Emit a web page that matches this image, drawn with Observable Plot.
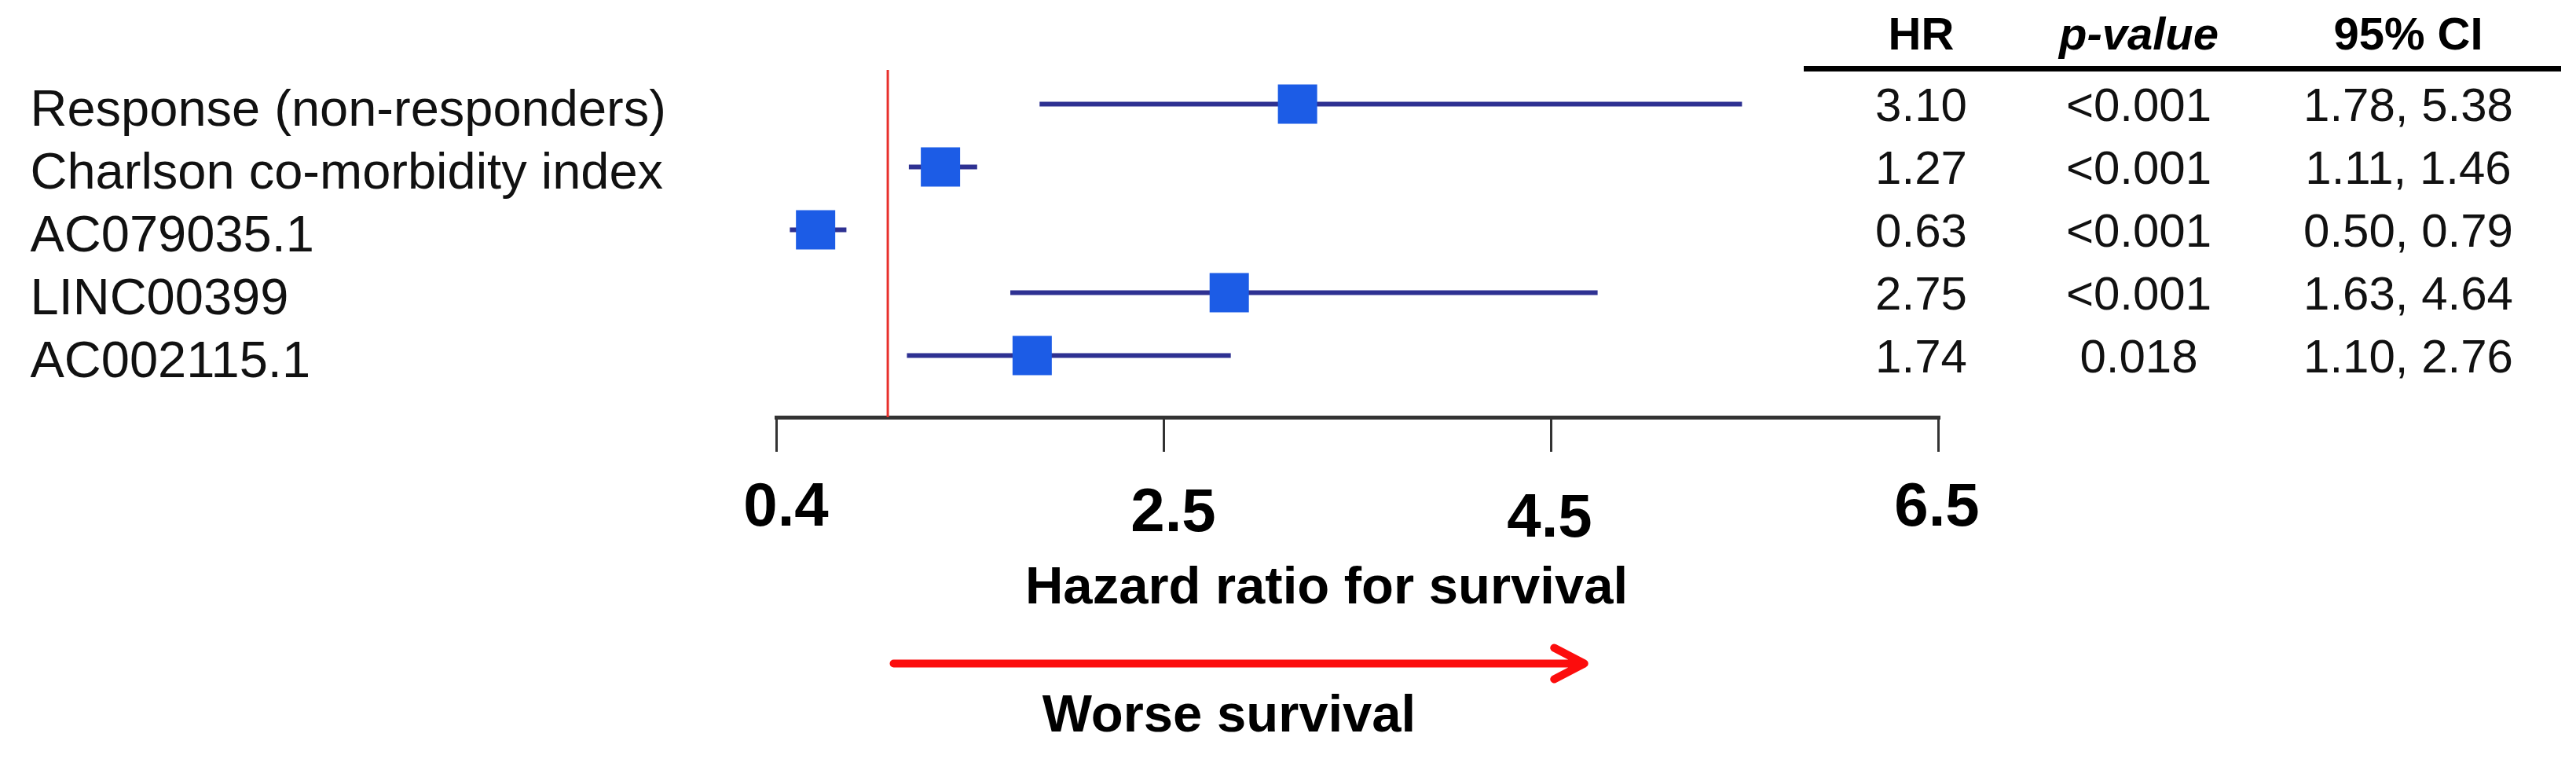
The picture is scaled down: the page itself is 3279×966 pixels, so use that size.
<!DOCTYPE html>
<html>
<head>
<meta charset="utf-8">
<script src="https://cdn.jsdelivr.net/npm/d3@7"></script>
<script src="https://cdn.jsdelivr.net/npm/@observablehq/plot@0.6"></script>
<style>
  body { margin: 0; background: #fff; }
  #wrap { position: relative; width: 3279px; height: 966px; overflow: hidden; }
  #main { position: absolute; left: 0; top: 0; }
  #table { position: absolute; left: 2296px; top: 0; }
</style>
</head>
<body>
<div id="wrap"><div id="main"></div><div id="table"></div></div>
<script>
// ---- data ----
const labels = ["Response (non-responders)", "Charlson co-morbidity index", "AC079035.1", "LINC00399", "AC002115.1"];
const hr = [3.10, 1.27, 0.63, 2.75, 1.74];
const ciLow = [1.78, 1.11, 0.50, 1.63, 1.10];
const ciHigh = [5.38, 1.46, 0.79, 4.64, 2.76];
const pValues = ["<0.001", "<0.001", "<0.001", "<0.001", "0.018"];
const headers = ["HR", "p-value", "95% CI"];
const tickValues = [0.43, 2.415, 4.4, 6.385];
const tickLabels = ["0.4", "2.5", "4.5", "6.5"];
const referenceHR = 1;
const arrowSpan = [{from: 1.03, to: 4.57}];
const xTitle = "Hazard ratio for survival";
const arrowLabel = "Worse survival";

const rows = labels.map((label, i) => ({
  label, hr: hr[i], lo: ciLow[i], hi: ciHigh[i],
  hrText: hr[i].toFixed(2), p: pValues[i],
  ci: ciLow[i].toFixed(2) + ", " + ciHigh[i].toFixed(2)
}));

const font = "'Liberation Sans', Arial, Helvetica, sans-serif";
const lastLabel = labels[labels.length - 1];
const yScale = {type: "point", domain: labels, range: [131, 452], padding: 0, axis: null};
// small per-label offsets seen in the original figure's tick labels
const tickLabelDx = [12, 12, -2, -2];
const tickLabelDy = [0, 7, 14, 0];

const main = Plot.plot({
  width: 3279, height: 966,
  marginLeft: 988, marginRight: 812, marginTop: 89, marginBottom: 435,
  style: {fontFamily: font, background: "transparent", color: "#111"},
  x: {domain: [tickValues[0], tickValues[tickValues.length - 1]]},
  y: yScale,
  marks: [
    Plot.frame({anchor: "bottom", stroke: "#333", strokeWidth: 5}),
    Plot.axisX({
      ticks: tickValues, tickFormat: () => "",
      tickSize: 44, stroke: "#333", strokeWidth: 3, label: null
    }),
    ...tickValues.map((v, i) => Plot.text([v], {
      x: d => d, text: () => tickLabels[i], frameAnchor: "bottom", lineAnchor: "top",
      textAnchor: "middle", dx: tickLabelDx[i], dy: 44 + 38 + tickLabelDy[i],
      fontSize: 78, fontWeight: "bold", fill: "#000"
    })),
    Plot.ruleX([referenceHR], {stroke: "#e8302c", strokeWidth: 3}),
    Plot.ruleY(rows, {y: "label", x1: "lo", x2: "hi", stroke: "#2e3192", strokeWidth: 6}),
    Plot.dot(rows, {x: "hr", y: "label", symbol: "square", r: 28.2, fill: "#1c5ce6"}),
    Plot.text(rows, {y: "label", text: "label", frameAnchor: "left", textAnchor: "start", lineAnchor: "middle",
      dx: 38 - 988, dy: 7, fontSize: 65, fill: "#111"}),
    Plot.text([xTitle], {frameAnchor: "bottom-left", textAnchor: "middle", lineAnchor: "middle", dx: 700, dy: 215,
      fontSize: 67, fontWeight: "bold", fill: "#000"}),
    Plot.arrow(arrowSpan, {x1: "from", x2: "to", y1: () => lastLabel, y2: () => lastLabel, dy: 392,
      stroke: "#fc0d0d", strokeWidth: 10, headLength: 6.5, headAngle: 55}),
    Plot.text([arrowLabel], {frameAnchor: "bottom-left", textAnchor: "middle", lineAnchor: "middle", dx: 576, dy: 378,
      fontSize: 67, fontWeight: "bold", fill: "#000"})
  ]
});
document.getElementById("main").appendChild(main);

const colDx = [149, 426, 769];
const colKeys = ["hrText", "p", "ci"];
const table = Plot.plot({
  width: 964, height: 500,
  marginTop: 87, marginLeft: 0, marginRight: 0, marginBottom: 0,
  style: {fontFamily: font, background: "transparent", color: "#111"},
  y: yScale,
  marks: [
    Plot.frame({anchor: "top", stroke: "#000", strokeWidth: 7}),
    ...colKeys.map((k, i) => Plot.text(rows, {y: "label", text: k, frameAnchor: "left",
      textAnchor: "middle", lineAnchor: "middle", dx: colDx[i], dy: 2, fontSize: 60, fill: "#111"})),
    ...headers.map((h, i) => Plot.text([h], {frameAnchor: "top-left", textAnchor: "middle", lineAnchor: "middle",
      dx: colDx[i], dy: -43, fontSize: 58, fontWeight: "bold",
      fontStyle: i === 1 ? "italic" : "normal", fill: "#000"}))
  ]
});
document.getElementById("table").appendChild(table);
</script>
</body>
</html>
